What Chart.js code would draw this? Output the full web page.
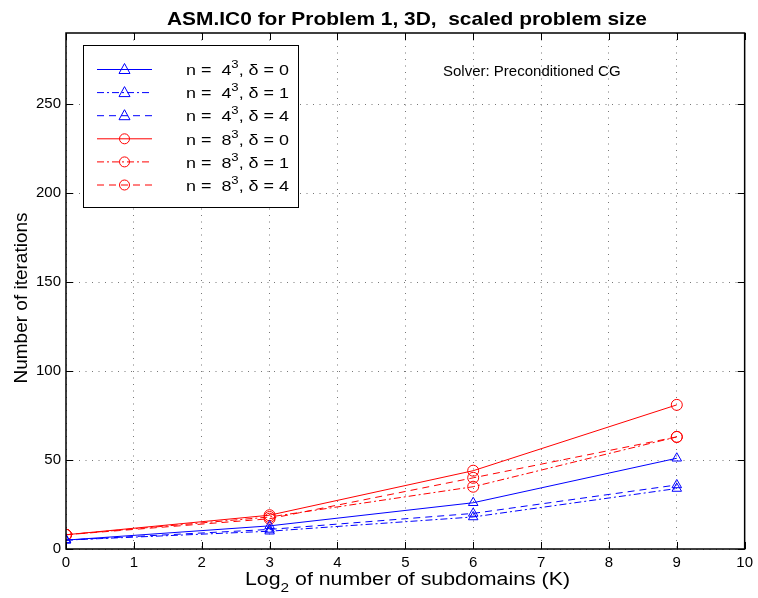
<!DOCTYPE html>
<html>
<head>
<meta charset="utf-8">
<script src="https://cdn.jsdelivr.net/npm/chart.js@4/dist/chart.umd.min.js"></script>
<style>
  html, body { margin: 0; padding: 0; background: #fff; }
  #wrap { width: 758px; height: 598px; }
</style>
</head>
<body>
<div id="wrap"><canvas id="myChart" width="758" height="598"></canvas></div>
<script>
// log2 of number of subdomains
var xVals = [0, 3, 6, 9];

// iteration counts
var n4d0 = [5, 13, 26, 51];
var n4d1 = [5, 10, 18, 34];
var n4d4 = [5, 11, 20, 36];
var n8d0 = [8, 19, 44, 81];
var n8d1 = [8, 18, 35, 63];
var n8d4 = [8, 17, 40, 63];

var seriesBase = ["4", "4", "4", "8", "8", "8"];
var seriesDelta = ["0", "1", "4", "0", "1", "4"];

var xTicks = [0, 1, 2, 3, 4, 5, 6, 7, 8, 9, 10];
var yTicks = [0, 50, 100, 150, 200, 250];

var titleText = "ASM.IC0 for Problem 1, 3D,  scaled problem size";
var solverText = "Solver: Preconditioned CG";

var FONT = "'Liberation Sans', Arial, Helvetica, sans-serif";

function pts(ys) {
  var out = [];
  for (var i = 0; i < xVals.length; i++) out.push({x: xVals[i], y: ys[i]});
  return out;
}

var BLUE = "#0000ff", RED = "#ff0000";
var dashDot = [7, 3, 2, 3];
var dashed = [7, 5];

function ds(ys, color, dash, marker) {
  return {
    data: pts(ys),
    borderColor: color,
    backgroundColor: "rgba(0,0,0,0)",
    borderWidth: 1,
    borderDash: dash,
    pointStyle: marker,
    pointRadius: 5.5,
    pointBorderColor: color,
    pointBackgroundColor: "rgba(0,0,0,0)",
    pointBorderWidth: 1,
    tension: 0
  };
}

var datasets = [
  ds(n4d0, BLUE, [], "triangle"),
  ds(n4d1, BLUE, dashDot, "triangle"),
  ds(n4d4, BLUE, dashed, "triangle"),
  ds(n8d0, RED, [], "circle"),
  ds(n8d1, RED, dashDot, "circle"),
  ds(n8d4, RED, dashed, "circle")
];

// text pieces [string, font, dy]; drawn stretched horizontally by sx
function drawPieces(ctx, pieces, x, y, sx) {
  ctx.save();
  ctx.translate(x, y);
  ctx.scale(sx, 1);
  var cx = 0;
  pieces.forEach(function(p) {
    ctx.font = p[1];
    ctx.fillText(p[0], cx, p[2]);
    cx += ctx.measureText(p[0]).width;
  });
  ctx.restore();
}
function piecesWidth(ctx, pieces) {
  var w = 0;
  pieces.forEach(function(p) { ctx.font = p[1]; w += ctx.measureText(p[0]).width; });
  return w;
}

var decorPlugin = {
  id: "decor",
  afterDraw: function(chart) {
    var ctx = chart.ctx;
    var a = chart.chartArea;
    var xs = chart.scales.x, ys = chart.scales.y;
    ctx.save();

    // box
    ctx.strokeStyle = "#000";
    ctx.lineWidth = 1.5;
    ctx.strokeRect(a.left, a.top, a.right - a.left, a.bottom - a.top);

    // inward ticks on all four sides
    ctx.lineWidth = 1;
    ctx.beginPath();
    xTicks.forEach(function(v) {
      var px = Math.round(xs.getPixelForValue(v)) + 0.5;
      ctx.moveTo(px, a.bottom); ctx.lineTo(px, a.bottom - 7);
      ctx.moveTo(px, a.top); ctx.lineTo(px, a.top + 7);
    });
    yTicks.forEach(function(v) {
      var py = Math.round(ys.getPixelForValue(v)) + 0.5;
      ctx.moveTo(a.left, py); ctx.lineTo(a.left + 7, py);
      ctx.moveTo(a.right, py); ctx.lineTo(a.right - 7, py);
    });
    ctx.stroke();

    ctx.fillStyle = "#000";
    ctx.textAlign = "left";
    ctx.textBaseline = "alphabetic";

    // title
    var tp = [[titleText, "bold 19px " + FONT, 0]];
    var tw = piecesWidth(ctx, tp);
    drawPieces(ctx, tp, 167, 25, 480 / tw);

    // solver note
    ctx.font = "15px " + FONT;
    ctx.fillText(solverText, 443, 76);

    // legend box
    var lx = 83, ly = 45, lw = 215, lh = 162;
    ctx.fillStyle = "#fff";
    ctx.fillRect(lx, ly, lw, lh);
    ctx.strokeStyle = "#000";
    ctx.lineWidth = 1;
    ctx.strokeRect(lx + 0.5, ly + 0.5, lw, lh);

    chart.data.datasets.forEach(function(d, i) {
      var y = 69.5 + i * 23.1;
      ctx.strokeStyle = d.borderColor;
      ctx.setLineDash(d.borderDash);
      ctx.beginPath();
      ctx.moveTo(97, y); ctx.lineTo(152, y);
      ctx.stroke();
      ctx.setLineDash([]);
      ctx.beginPath();
      if (d.pointStyle === "circle") {
        ctx.arc(124.5, y, 5, 0, Math.PI * 2);
      } else {
        ctx.moveTo(124.5, y - 6); ctx.lineTo(130, y + 4); ctx.lineTo(119, y + 4); ctx.closePath();
      }
      ctx.stroke();

      ctx.fillStyle = "#000";
      var lp = [
        ["n =  " + seriesBase[i], "15px " + FONT, 0],
        ["3", "11px " + FONT, -7],
        [", \u03b4 = " + seriesDelta[i], "15px " + FONT, 0]
      ];
      var lw2 = piecesWidth(ctx, lp);
      drawPieces(ctx, lp, 186, y + 5.7, 103 / lw2);
    });

    // x axis title with subscript
    var xp = [
      ["Log", "18px " + FONT, 0],
      ["2", "13px " + FONT, 7],
      [" of number of subdomains (K)", "18px " + FONT, 0]
    ];
    var xw = piecesWidth(ctx, xp);
    drawPieces(ctx, xp, 245, 585, 325 / xw);

    // y axis title
    ctx.translate(22, 298);
    ctx.rotate(-Math.PI / 2);
    ctx.textAlign = "center";
    ctx.textBaseline = "middle";
    ctx.font = "19px " + FONT;
    ctx.fillText("Number of iterations", 0, 0);

    ctx.restore();
  }
};

var ctx = document.getElementById('myChart').getContext('2d');
var myChart = new Chart(ctx, {
  type: 'line',
  data: { datasets: datasets },
  options: {
    responsive: false,
    animation: false,
    devicePixelRatio: 1,
    layout: { padding: { top: 33, right: 10, left: 0, bottom: 0 } },
    plugins: {
      legend: { display: false },
      tooltip: { enabled: false },
      title: { display: false }
    },
    scales: {
      x: {
        type: 'linear',
        min: 0, max: 10,
        afterBuildTicks: function(s) { s.ticks = xTicks.map(function(v) { return {value: v}; }); },
        afterFit: function(s) { s.height = 49; },
        grid: { color: "#777", lineWidth: 1, drawTicks: false },
        border: { display: false, dash: [1, 5.5] },
        ticks: { color: "#000", font: { family: FONT, size: 15 }, padding: 5, maxRotation: 0 }
      },
      y: {
        type: 'linear',
        min: 0, max: 290,
        afterBuildTicks: function(s) { s.ticks = yTicks.map(function(v) { return {value: v}; }); },
        afterFit: function(s) { s.width = 66; },
        grid: { color: "#777", lineWidth: 1, drawTicks: false },
        border: { display: false, dash: [1, 5.5] },
        ticks: { color: "#000", font: { family: FONT, size: 15 }, padding: 5 }
      }
    }
  },
  plugins: [decorPlugin]
});
</script>
</body>
</html>
